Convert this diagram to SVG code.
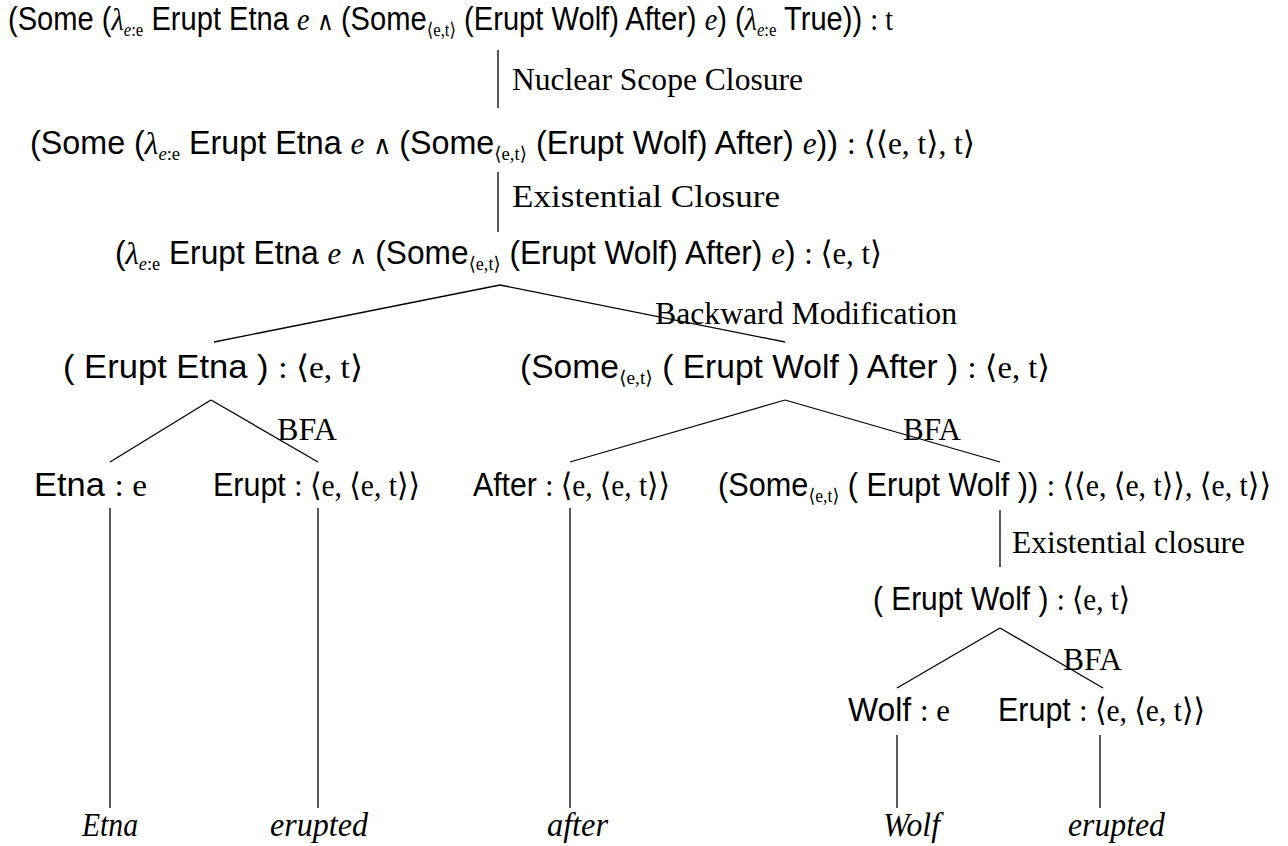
<svg xmlns="http://www.w3.org/2000/svg" width="1288" height="846" viewBox="0 0 1288 846">
<style>
  text { fill: #000; font-size: 32px; }
  .s { font-family: "Liberation Sans", Arial, sans-serif; font-size: 33px; }
  .r { font-family: "Liberation Serif", "DejaVu Serif", serif; }
  .i { font-family: "Liberation Serif", "DejaVu Serif", serif; font-style: italic; }
  .and { font-family: "DejaVu Sans", sans-serif; font-size: 26px; font-weight: 300; }
  .sub { font-size: 19px; }
  .lbl { font-family: "Liberation Serif", "DejaVu Serif", serif; font-size: 32px; }
  .leaf { font-family: "Liberation Serif", "DejaVu Serif", serif; font-style: italic; font-size: 34px; }
  .edge { stroke: #000; stroke-width: 1.3; fill: none; }
</style>

<rect width="1288" height="846" fill="#fff"/>

<g id="connectors">
  <line class="edge" x1="498" y1="50" x2="498" y2="108"/>
  <line class="edge" x1="498" y1="172" x2="498" y2="232"/>
  <line class="edge" x1="500" y1="285" x2="214" y2="342"/>
  <line class="edge" x1="500" y1="285" x2="785" y2="342"/>
  <line class="edge" x1="211" y1="400" x2="110" y2="462"/>
  <line class="edge" x1="211" y1="400" x2="318" y2="462"/>
  <line class="edge" x1="785" y1="400" x2="570" y2="462"/>
  <line class="edge" x1="785" y1="400" x2="1000" y2="462"/>
  <line class="edge" x1="110" y1="508" x2="110" y2="808"/>
  <line class="edge" x1="318" y1="508" x2="318" y2="808"/>
  <line class="edge" x1="570" y1="508" x2="570" y2="808"/>
  <line class="edge" x1="1000" y1="510" x2="1000" y2="567"/>
  <line class="edge" x1="1000" y1="628" x2="897" y2="688"/>
  <line class="edge" x1="1000" y1="628" x2="1103" y2="688"/>
  <line class="edge" x1="897" y1="735" x2="897" y2="808"/>
  <line class="edge" x1="1100" y1="735" x2="1100" y2="808"/>
</g>

<g id="rule-labels">
  <text class="lbl" x="512" y="90" textLength="291" lengthAdjust="spacingAndGlyphs">Nuclear Scope Closure</text>
  <text class="lbl" x="512" y="207" textLength="268" lengthAdjust="spacingAndGlyphs">Existential Closure</text>
  <text class="lbl" x="655" y="324" textLength="302" lengthAdjust="spacingAndGlyphs">Backward Modification</text>
  <text class="lbl" x="277" y="440" textLength="60" lengthAdjust="spacingAndGlyphs">BFA</text>
  <text class="lbl" x="903" y="440" textLength="58" lengthAdjust="spacingAndGlyphs">BFA</text>
  <text class="lbl" x="1012" y="553" textLength="233" lengthAdjust="spacingAndGlyphs">Existential closure</text>
  <text class="lbl" x="1063" y="670" textLength="59" lengthAdjust="spacingAndGlyphs">BFA</text>
</g>

<g id="root">
  <text x="8" y="30" textLength="885" lengthAdjust="spacingAndGlyphs"><tspan class="s">(Some (</tspan><tspan class="i">λ</tspan><tspan class="sub i" dy="6">e</tspan><tspan class="sub r">:e</tspan><tspan class="s" dy="-6"> Erupt Etna </tspan><tspan class="i">e</tspan><tspan class="and"> ∧ </tspan><tspan class="s">(Some</tspan><tspan class="sub r" dy="6">⟨e,t⟩</tspan><tspan class="s" dy="-6"> (Erupt Wolf) After) </tspan><tspan class="i">e</tspan><tspan class="s">) (</tspan><tspan class="i">λ</tspan><tspan class="sub i" dy="6">e</tspan><tspan class="sub r">:e</tspan><tspan class="s" dy="-6"> True)) </tspan><tspan class="r">: t</tspan></text>
</g>

<g id="existential">
  <text x="30" y="154" textLength="945" lengthAdjust="spacingAndGlyphs"><tspan class="s">(Some (</tspan><tspan class="i">λ</tspan><tspan class="sub i" dy="6">e</tspan><tspan class="sub r">:e</tspan><tspan class="s" dy="-6"> Erupt Etna </tspan><tspan class="i">e</tspan><tspan class="and"> ∧ </tspan><tspan class="s">(Some</tspan><tspan class="sub r" dy="6">⟨e,t⟩</tspan><tspan class="s" dy="-6"> (Erupt Wolf) After) </tspan><tspan class="i">e</tspan><tspan class="s">)) </tspan><tspan class="r">: ⟨⟨e, t⟩, t⟩</tspan></text>
</g>

<g id="predicate">
  <text x="115" y="264" textLength="767" lengthAdjust="spacingAndGlyphs"><tspan class="s">(</tspan><tspan class="i">λ</tspan><tspan class="sub i" dy="6">e</tspan><tspan class="sub r">:e</tspan><tspan class="s" dy="-6"> Erupt Etna </tspan><tspan class="i">e</tspan><tspan class="and"> ∧ </tspan><tspan class="s">(Some</tspan><tspan class="sub r" dy="6">⟨e,t⟩</tspan><tspan class="s" dy="-6"> (Erupt Wolf) After) </tspan><tspan class="i">e</tspan><tspan class="s">) </tspan><tspan class="r">: ⟨e, t⟩</tspan></text>
</g>

<g id="erupt-etna">
  <text x="63" y="378" textLength="300" lengthAdjust="spacingAndGlyphs"><tspan class="s">( Erupt Etna ) </tspan><tspan class="r">: ⟨e, t⟩</tspan></text>
</g>

<g id="some-erupt-wolf-after">
  <text x="520" y="378" textLength="530" lengthAdjust="spacingAndGlyphs"><tspan class="s">(Some</tspan><tspan class="sub r" dy="6">⟨e,t⟩</tspan><tspan class="s" dy="-6"> ( Erupt Wolf ) After ) </tspan><tspan class="r">: ⟨e, t⟩</tspan></text>
</g>

<g id="etna">
  <text x="34" y="496" textLength="113" lengthAdjust="spacingAndGlyphs"><tspan class="s">Etna </tspan><tspan class="r">: e</tspan></text>
</g>

<g id="erupt-1">
  <text x="213" y="496" textLength="207" lengthAdjust="spacingAndGlyphs"><tspan class="s">Erupt </tspan><tspan class="r">: ⟨e, ⟨e, t⟩⟩</tspan></text>
</g>

<g id="after">
  <text x="473" y="496" textLength="197" lengthAdjust="spacingAndGlyphs"><tspan class="s">After </tspan><tspan class="r">: ⟨e, ⟨e, t⟩⟩</tspan></text>
</g>

<g id="some-erupt-wolf">
  <text x="718" y="496" textLength="553" lengthAdjust="spacingAndGlyphs"><tspan class="s">(Some</tspan><tspan class="sub r" dy="6">⟨e,t⟩</tspan><tspan class="s" dy="-6"> ( Erupt Wolf )) </tspan><tspan class="r">: ⟨⟨e, ⟨e, t⟩⟩, ⟨e, t⟩⟩</tspan></text>
</g>

<g id="erupt-wolf">
  <text x="873" y="610" textLength="257" lengthAdjust="spacingAndGlyphs"><tspan class="s">( Erupt Wolf ) </tspan><tspan class="r">: ⟨e, t⟩</tspan></text>
</g>

<g id="wolf">
  <text x="848" y="721" textLength="102" lengthAdjust="spacingAndGlyphs"><tspan class="s">Wolf </tspan><tspan class="r">: e</tspan></text>
</g>

<g id="erupt-2">
  <text x="998" y="721" textLength="207" lengthAdjust="spacingAndGlyphs"><tspan class="s">Erupt </tspan><tspan class="r">: ⟨e, ⟨e, t⟩⟩</tspan></text>
</g>

<g id="leaves">
  <text class="leaf" x="82" y="836" textLength="56" lengthAdjust="spacingAndGlyphs">Etna</text>
  <text class="leaf" x="270" y="836" textLength="98" lengthAdjust="spacingAndGlyphs">erupted</text>
  <text class="leaf" x="547" y="836" textLength="61" lengthAdjust="spacingAndGlyphs">after</text>
  <text class="leaf" x="883" y="836" textLength="57" lengthAdjust="spacingAndGlyphs">Wolf</text>
  <text class="leaf" x="1068" y="836" textLength="97" lengthAdjust="spacingAndGlyphs">erupted</text>
</g>
</svg>
